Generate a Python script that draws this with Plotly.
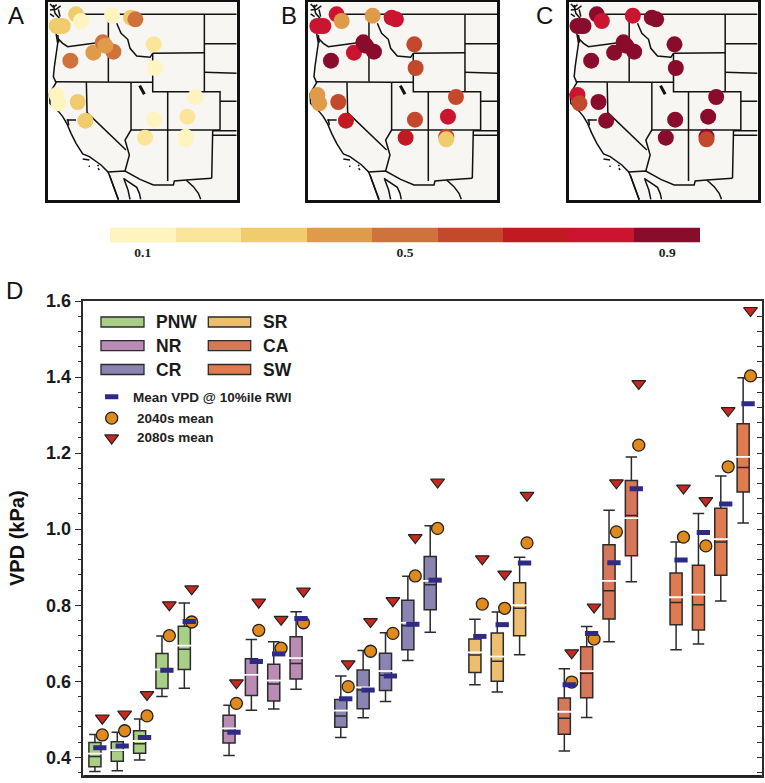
import plotly.graph_objects as go

# ---------- panel D data ----------
REGIONS = ["PNW", "NR", "CR", "SR", "CA", "SW"]
REGION_COLORS = ["#a9cf87", "#b98bb5", "#8a84b3", "#eebd6d", "#d6775a", "#e07b50"]
X_POS = [[0, 1, 2, 3, 4], [6, 7, 8, 9], [11, 12, 13, 14, 15], [17, 18, 19], [21, 22, 23, 24], [26, 27, 28, 29]]
WHISK_HI = [[0.460, 0.466, 0.501, 0.719, 0.806], [0.537, 0.710, 0.704, 0.783], [0.614, 0.681, 0.728, 0.876, 1.009],
            [0.763, 0.782, 0.926], [0.633, 0.744, 1.050, 1.190], [0.966, 1.041, 1.140, 1.398]]
Q3 = [[0.439, 0.441, 0.470, 0.673, 0.745], [0.511, 0.659, 0.645, 0.717], [0.552, 0.630, 0.674, 0.813, 0.928],
      [0.711, 0.727, 0.859], [0.556, 0.691, 0.959, 1.128], [0.885, 0.905, 1.055, 1.277]]
BOX_MEAN = [[0.410, 0.419, 0.443, 0.631, 0.694], [0.476, 0.617, 0.602, 0.661], [0.523, 0.584, 0.627, 0.754, 0.864],
            [0.676, 0.665, 0.800], [0.520, 0.627, 0.864, 1.029], [0.821, 0.828, 0.974, 1.190]]
MEDIAN = [[0.402, 0.418, 0.436, 0.631, 0.684], [0.469, 0.617, 0.593, 0.647], [0.509, 0.577, 0.616, 0.746, 0.854],
          [0.669, 0.653, 0.792], [0.503, 0.621, 0.838, 1.036], [0.807, 0.801, 0.966, 1.162]]
Q1 = [[0.375, 0.390, 0.411, 0.581, 0.631], [0.438, 0.563, 0.548, 0.606], [0.479, 0.528, 0.576, 0.683, 0.788],
      [0.623, 0.600, 0.720], [0.461, 0.557, 0.764, 0.930], [0.749, 0.735, 0.879, 1.098]]
WHISK_LO = [[0.363, 0.365, 0.393, 0.560, 0.582], [0.405, 0.524, 0.527, 0.579], [0.452, 0.504, 0.547, 0.655, 0.729],
            [0.591, 0.572, 0.670], [0.417, 0.505, 0.704, 0.862], [0.683, 0.698, 0.811, 1.016]]
RWI10 = [[0.425, 0.430, 0.452, 0.629, 0.757], [0.466, 0.652, 0.672, 0.765], [0.554, 0.577, 0.614, 0.750, 0.866],
         [0.718, 0.749, 0.911], [0.591, 0.726, 0.912, 1.106], [0.919, 0.991, 1.066, 1.330]]
MEAN_2040 = [[0.459, 0.470, 0.509, 0.720, 0.756], [0.542, 0.734, 0.687, 0.754], [0.586, 0.679, 0.726, 0.877, 1.002],
             [0.803, 0.792, 0.964], [0.598, 0.711, 0.993, 1.221], [0.979, 0.956, 1.164, 1.403]]
MEAN_2080 = [[0.503, 0.514, 0.565, 0.801, 0.843], [0.596, 0.808, 0.763, 0.837], [0.646, 0.757, 0.812, 0.978, 1.124],
             [0.922, 0.882, 1.089], [0.675, 0.795, 1.122, 1.383], [1.108, 1.075, 1.312, 1.575]]

# ---------- map data (map units) ----------
SITE_X = [228, 243, 170, 180, 188, 211, 280, 308, 340, 316, 336, 393, 406, 461, 465, 586, 562, 463, 435, 557, 557, 170, 176, 233, 256]
SITE_Y = [43, 63, 78, 78, 78, 182, 158, 127, 155, 137, 47, 53, 58, 133, 204, 291, 350, 359, 413, 410, 418, 285, 310, 306, 362]
PROB_A = [.3, .1, .3, .3, .3, .5, .4, .5, .5, .4, .1, .3, .5, .2, .1, .1, .2, .1, .2, .1, .1, .1, .1, .3, .3]
PROB_B = [.8, .4, .8, .8, .8, .9, .8, .9, .9, .9, .4, .8, .8, .6, .6, .6, .8, .6, .7, .6, .3, .4, .4, .6, .7]
PROB_C = [.9, .8, .9, .9, .9, .9, .9, .9, .9, .9, .8, .9, .9, .9, .9, .9, .9, .9, .9, .9, .6, .8, .6, .9, .9]
CLASS_VALUES = [.1, .2, .3, .4, .5, .6, .7, .8, .9]
CLASS_COLORS = ["#fdf4bf", "#fbe598", "#f1cc6c", "#e09b4a", "#d0723c", "#c4482c", "#c21a22", "#cb1530", "#8a0c2c"]
CLASS_LABELS = ["0.1", "0.5", "0.9"]

LAND = [(150, 7), (150, 40), (168, 100), (173, 130), (163, 200), (160, 230), (168, 248), (160, 262), (148, 282), (150, 310),
        (176, 335), (188, 350), (200, 370), (213, 400), (228, 430), (248, 462), (268, 470), (303, 495), (323, 515),
        (328, 525), (343, 565), (355, 600), (710, 600), (710, 7)]
GULF = [(372, 538), (388, 548), (410, 562), (418, 580), (422, 600), (390, 600), (384, 570)]
BORDERS = [
    LAND[2:22],                                                              # Pacific coast
    [(173, 115), (188, 130), (203, 140), (240, 135), (280, 128), (325, 124)],   # WA / OR
    [(226, 43), (710, 43)],                                                   # 49th parallel
    [(325, 43), (325, 245)],                                                  # WA, OR / ID
    [(165, 245), (393, 247)],                                                 # OR, ID / CA, NV, UT
    [(259, 247), (261, 338), (378, 450)],                                     # CA / NV
    [(393, 247), (393, 390), (375, 420), (388, 465), (375, 513)],             # NV, AZ
    [(323, 516), (375, 513), (420, 538), (460, 555), (520, 555), (523, 543), (558, 540), (635, 535)],  # Mexico
    [(558, 540), (580, 560), (595, 580), (602, 598)],                         # Rio Grande
    [(635, 535), (638, 392)],                                                 # NM / TX
    [(393, 390), (660, 390)],                                                 # 37th parallel
    [(638, 392), (710, 392)],
    [(638, 406), (710, 406)],
    [(503, 275), (503, 543)],                                                 # UT, AZ / CO, NM
    [(393, 247), (458, 247)],
    [(458, 160), (458, 275), (660, 275), (660, 390)],                         # WY south, CO north and east
    [(458, 160), (613, 158)],
    [(613, 43), (613, 275)],
    [(613, 131), (710, 131)],
    [(613, 217), (710, 220)],
    [(660, 304), (710, 304)],
    [(350, 70), (363, 100), (383, 118), (390, 145), (410, 168), (450, 172), (458, 160)],  # ID / MT
    [(150, 12), (160, 22), (170, 14)],                                         # Puget Sound
    [(150, 30), (168, 28), (182, 18)],
    [(160, 15), (165, 40), (178, 55)],
    [(175, 28), (180, 50)],
    [(150, 42), (162, 50)],
    [(173, 105), (176, 128)],
    [(200, 360), (228, 360)],                                                 # San Francisco Bay
    [(203, 358), (206, 376)],
    [(248, 477), (268, 480)],                                                 # Channel Islands
    [(266, 497), (269, 500)],
    [(293, 494), (295, 499)],
    [(294, 505), (298, 510)],
    [(370, 535), (388, 548), (410, 562), (418, 580), (422, 598)],             # Gulf of California
    [(372, 538), (384, 570), (390, 598)],
    [(328, 525), (343, 565), (355, 598)],
]
SALT_LAKE = [(419, 257), (425, 268), (433, 283)]

# ---------- layout geometry ----------
W, H = 765, 783
def fx(p): return p / W
def fy(p): return 1 - p / H

MAP_XRANGE = [143, 710]
MAP_YRANGE = [600, 7]
MAP_PANELS = [(47.7, 236.7), (308.3, 497.3), (568.5, 757.5)]
LINE_DARK = "#2b2b2b"
SANS = "Liberation Sans"

def stepped_scale(colors):
    n = len(colors)
    out = []
    for i, c in enumerate(colors):
        out += [[i / n, c], [(i + 1) / n, c]]
    return out

SCALE = stepped_scale(CLASS_COLORS)

fig = go.Figure()

def flatten_lines(lines):
    xs, ys = [], []
    for line in lines:
        xs += [p[0] for p in line] + [None]
        ys += [p[1] for p in line] + [None]
    return xs, ys

border_x, border_y = flatten_lines(BORDERS)
for i, probs in enumerate([PROB_A, PROB_B, PROB_C]):
    sfx = "" if i == 0 else str(i + 1)
    ax = dict(xaxis="x" + sfx, yaxis="y" + sfx, hoverinfo="skip", showlegend=False)
    fig.add_trace(go.Scatter(x=[p[0] for p in LAND], y=[p[1] for p in LAND], mode="none", fill="toself",
                             fillcolor="#f8f6f2", **ax))
    fig.add_trace(go.Scatter(x=[p[0] for p in GULF], y=[p[1] for p in GULF], mode="none", fill="toself",
                             fillcolor="#ffffff", **ax))
    fig.add_trace(go.Scatter(x=border_x, y=border_y, mode="lines", line=dict(color="#111111", width=1.5), **ax))
    fig.add_trace(go.Scatter(x=[p[0] for p in SALT_LAKE], y=[p[1] for p in SALT_LAKE], mode="lines",
                             line=dict(color="#111111", width=3), **ax))
    fig.add_trace(go.Scatter(x=SITE_X, y=SITE_Y, mode="markers",
                             marker=dict(size=16, color=probs, colorscale=SCALE, cmin=0.05, cmax=0.95, line=dict(width=0)),
                             **ax))

# colour bar
fig.add_trace(go.Heatmap(x=CLASS_VALUES, y=[0], z=[CLASS_VALUES], colorscale=SCALE, zmin=0.05, zmax=0.95,
                         showscale=False, xaxis="x4", yaxis="y4", hoverinfo="skip"))

# panel D
ax5 = dict(xaxis="x5", yaxis="y5", showlegend=False)
for i, name in enumerate(REGIONS):
    fig.add_trace(go.Box(x=X_POS[i], q1=Q1[i], median=MEDIAN[i], q3=Q3[i], lowerfence=WHISK_LO[i], upperfence=WHISK_HI[i],
                         name=name, width=0.54, whiskerwidth=0.95, boxpoints=False, fillcolor=REGION_COLORS[i],
                         line=dict(color=LINE_DARK, width=1.5), **ax5))

OFF_RWI, OFF_MEAN = 0.22, 0.33
def flat(a): return [v for row in a for v in row]
all_x = flat(X_POS)
CIRCLE = dict(symbol="circle", size=12, color="#e08a1e", line=dict(color="#222222", width=1.3))
TRIANGLE = dict(symbol="triangle-down", size=12, color="#c8281e", line=dict(color="#222222", width=1.2))
DASH = dict(symbol="line-ew", size=9.5, color="#2f2a85", line=dict(color="#2f2a85", width=5))
fig.add_trace(go.Scatter(x=all_x, y=flat(BOX_MEAN), mode="markers", name="Box mean",
                         marker=dict(symbol="line-ew", size=12, color="#ffffff", line=dict(color="#ffffff", width=1.8)), **ax5))
fig.add_trace(go.Scatter(x=[x + OFF_MEAN for x in all_x], y=flat(MEAN_2040), mode="markers", name="2040s mean", marker=CIRCLE, **ax5))
fig.add_trace(go.Scatter(x=[x + OFF_MEAN for x in all_x], y=flat(MEAN_2080), mode="markers", name="2080s mean", marker=TRIANGLE, **ax5))
fig.add_trace(go.Scatter(x=[x + OFF_RWI for x in all_x], y=flat(RWI10), mode="markers", name="Mean VPD @ 10%ile RWI", marker=DASH, **ax5))

# legend glyphs
LEG_X, LEG_Y_DASH, LEG_Y_CIRCLE, LEG_Y_TRI = 0.75, 1.348, 1.292, 1.240
for yy, mk in [(LEG_Y_DASH, DASH), (LEG_Y_CIRCLE, CIRCLE), (LEG_Y_TRI, TRIANGLE)]:
    fig.add_trace(go.Scatter(x=[LEG_X], y=[yy], mode="markers", marker=mk, hoverinfo="skip", **ax5))

# invisible carrier for the right-hand tick axis
fig.add_trace(go.Scatter(x=[0], y=[0.4], mode="markers", opacity=0, hoverinfo="skip", showlegend=False, xaxis="x5", yaxis="y6"))

layout = dict(width=W, height=H, margin=dict(l=0, r=0, t=0, b=0, autoexpand=False), paper_bgcolor="white", plot_bgcolor="white",
              showlegend=False, font=dict(family=SANS, color="#1a1a1a"), boxmode="overlay")

for i, (x0, x1) in enumerate(MAP_PANELS):
    sfx = "" if i == 0 else str(i + 1)
    frame = dict(showline=True, mirror=True, linecolor="#111111", linewidth=3, showgrid=False, zeroline=False,
                 ticks="", showticklabels=False, fixedrange=True, automargin=False)
    layout["xaxis" + sfx] = dict(domain=[fx(x0), fx(x1)], range=MAP_XRANGE, anchor="y" + sfx, **frame)
    layout["yaxis" + sfx] = dict(domain=[fy(200), fy(2.3)], range=MAP_YRANGE, anchor="x" + sfx, **frame)

layout["xaxis4"] = dict(domain=[fx(110), fx(700)], range=[0.05, 0.95], anchor="y4", showgrid=False, zeroline=False,
                        tickvals=[.1, .5, .9], ticktext=CLASS_LABELS, ticks="", ticklen=0, automargin=False,
                        tickfont=dict(family="Liberation Serif", size=13.5, color="#222222", weight="bold"))
layout["yaxis4"] = dict(domain=[fy(242.5), fy(227.5)], range=[-0.5, 0.5], anchor="x4", showgrid=False, zeroline=False,
                        showticklabels=False, ticks="", automargin=False)

layout["xaxis5"] = dict(domain=[fx(83.3), fx(761.7)], range=[-0.52, 29.83], anchor="y5", showline=True, mirror=True, automargin=False,
                        linecolor=LINE_DARK, linewidth=1.5, showgrid=False, zeroline=False, ticks="", showticklabels=False)
common_y = dict(domain=[fy(776), fy(301)], range=[0.351, 1.6], tick0=0, dtick=0.2, showgrid=False, zeroline=False, automargin=False,
                showline=True, linecolor=LINE_DARK, linewidth=1.5, tickcolor=LINE_DARK, tickwidth=1.2)
layout["yaxis5"] = dict(anchor="x5", ticks="outside", ticklen=7, tickformat=".1f",
                        tickfont=dict(family=SANS, size=18, weight="bold", color="#1a1a1a"),
                        minor=dict(dtick=0.04, tick0=0, ticks="outside", ticklen=4, tickwidth=1.2, tickcolor=LINE_DARK, showgrid=False),
                        **common_y)
layout["yaxis6"] = dict(anchor="x5", overlaying="y5", side="right", ticks="inside", ticklen=5, showticklabels=False,
                        minor=dict(dtick=0.04, tick0=0, ticks="inside", ticklen=5, tickwidth=1.2, tickcolor=LINE_DARK, showgrid=False),
                        **common_y)

# legend swatches and texts, panel letters
shapes, annots = [], []
shapes.append(dict(type="line", xref="paper", yref="paper", x0=fx(83.3), x1=fx(761.7), y0=fy(776), y1=fy(776),
                   line=dict(color="#222222", width=2)))
LEG_ROWS = [322, 345.7, 369.5]
for col, (x0, x1) in enumerate([(101, 144), (208.3, 250.7)]):
    for row, yc in enumerate(LEG_ROWS):
        idx = col * 3 + row
        shapes.append(dict(type="rect", xref="paper", yref="paper", x0=fx(x0), x1=fx(x1), y0=fy(yc - 5), y1=fy(yc + 5),
                           fillcolor=REGION_COLORS[idx], line=dict(color=LINE_DARK, width=1.3)))
        annots.append(dict(text=REGIONS[idx], x=fx(155 if col == 0 else 261.7), y=fy(yc), xanchor="left", yanchor="middle",
                           font=dict(size=17.5, weight="bold", family=SANS, color="#1a1a1a")))
for text, x, y in [("Mean VPD @ 10%ile RWI", 131.7, 397), ("2040s mean", 135.7, 418), ("2080s mean", 135.7, 438)]:
    annots.append(dict(text=text, x=fx(x), y=fy(y), xanchor="left", yanchor="middle",
                       font=dict(size=13.5, weight="bold", family=SANS, color="#222222")))
for text, x, y in [("A", 7, 16), ("B", 279.5, 16), ("C", 534.5, 16), ("D", 5, 290)]:
    annots.append(dict(text=text, x=fx(x), y=fy(y), xanchor="left", yanchor="middle",
                       font=dict(size=24, family=SANS, color="#111111")))
annots.append(dict(text="VPD (kPa)", x=fx(17), y=fy(538), xanchor="center", yanchor="middle", textangle=-90,
                   font=dict(size=20, weight="bold", family=SANS, color="#111111")))
for a in annots:
    a.update(xref="paper", yref="paper", showarrow=False, xshift=0, yshift=0, borderpad=0)
layout["shapes"] = shapes
layout["annotations"] = annots

fig.update_layout(**layout)
fig.write_html("out.html", post_script="document.body.style.margin='0';", config={"displayModeBar": False})
